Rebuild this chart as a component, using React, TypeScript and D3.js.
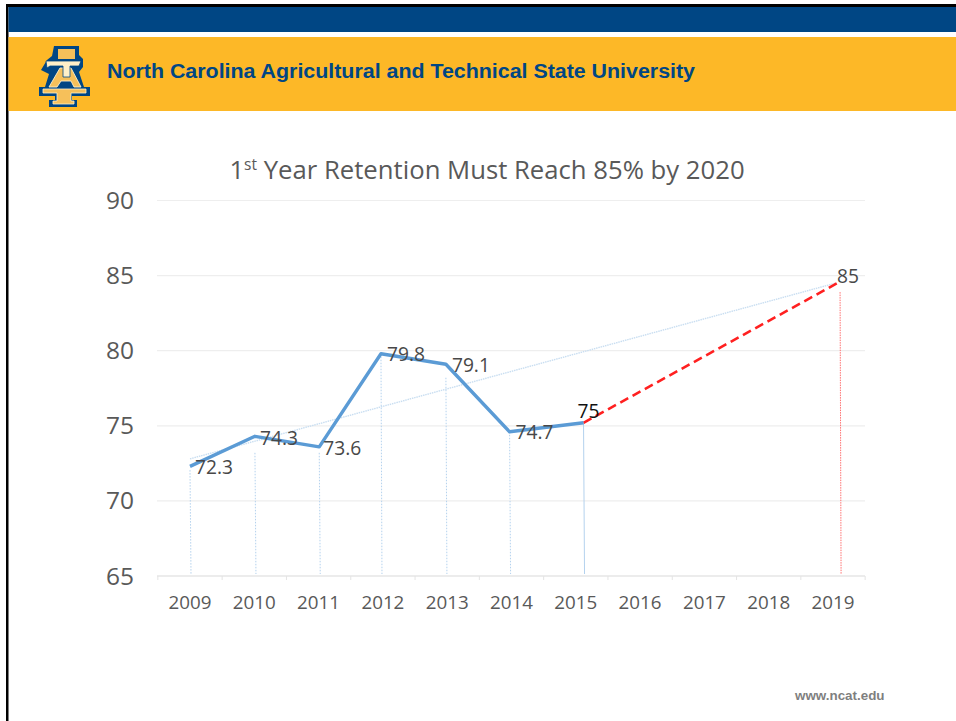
import React from "react";
import * as d3 from "d3";

const years = [2009, 2010, 2011, 2012, 2013, 2014, 2015, 2016, 2017, 2018, 2019];
const yTicks = [65, 70, 75, 80, 85, 90];
const actualPositions = [2009, 2010.01, 2011.01, 2011.97, 2012.98, 2013.97, 2015.12];
const actualValues = [72.3, 74.3, 73.6, 79.8, 79.1, 74.6, 75.2];
const actualLabels = ["72.3", "74.3", "73.6", "79.8", "79.1", "74.7", "75"];
const dropTops = [72.05, 73.2, 73.2, 79.8, 78.2, 74.6, 75.2];
const targetPositions = [2015.12, 2019.11];
const targetValues = [75.2, 84.6];
const trendPositions = [2009, 2019.04];
const trendValues = [72.8, 84.5];
const targetLabel = "85";
const targetDropTop = 83.9;

const FONT = "'Open Sans', sans-serif";
const NAVY = "#004684";
const GOLD = "#FDB827";

const x = d3.scaleLinear().domain([2009, 2019]).range([190, 833]);
const y = d3.scaleLinear().domain([65, 90]).range([576, 200.5]);
const line = d3.line<[number, number]>().x((d) => x(d[0])).y((d) => y(d[1]));
const pairs = (a: number[], b: number[]) => a.map((v, i) => [v, b[i]] as [number, number]);

const labelOffsets = [[5, 8], [5, 9], [4, 8.5], [6, 7], [6, 8], [6, 7.5], [-6, -5]];

function Logo() {
  return (
    <g>
      <path d="M54 46H79V55L83 59V67L79 72L84 87H90V96H72V100H77V107H49V100H55V96H39V87H45L49 74L41 70L47 60L52 56Z" fill={NAVY} />
      <path d="M58 49H75V59H58Z" fill="#f6c05a" />
      <path d="M60 68H71L81 87H74L71 81H61L57 87H49Z" fill="#f6c05a" stroke="#fff0c8" strokeWidth={0.9} />
      <path d="M46 61H81L79 66H70V77H63V66H50L47 68Z" fill="#fff0c8" stroke={NAVY} strokeWidth={0.8} />
      <path d="M43 89H86V93H71V101H74V104H53V101H57V93H43Z" fill="#f6c05a" stroke="#fff0c8" strokeWidth={0.8} />
    </g>
  );
}

export default function App() {
  const axisTicks = d3.range(years.length + 1).map((i) => x(2009 + i - 0.5));
  return (
    <svg width={956} height={721} style={{ position: "absolute", left: 0, top: 0, background: "#fff" }}>
      <rect x={6} y={4} width={950} height={3} fill="#000" />
      <rect x={6} y={4} width={2.5} height={717} fill="#000" />
      <rect x={8.5} y={7} width={947.5} height={25} fill={NAVY} />
      <rect x={8.5} y={37} width={947.5} height={74} fill={GOLD} />
      <Logo />
      <text x={107} y={78} fontFamily="'Liberation Sans', Arial, sans-serif" fontWeight={700} fontSize={20} fill={NAVY} textLength={588} lengthAdjust="spacingAndGlyphs">
        North Carolina Agricultural and Technical State University
      </text>

      <text x={487} y={179} textAnchor="middle" fontFamily={FONT} fontSize={25.7} fill="#595959">
        1<tspan dy={-9} fontSize={15.5}>st</tspan>
        <tspan dy={9}> Year Retention Must Reach 85% by 2020</tspan>
      </text>

      {yTicks.map((t) => (
        <g key={t}>
          {t > 65 && <line x1={157} x2={865} y1={y(t)} y2={y(t)} stroke="#eeeeee" strokeWidth={1.2} />}
          <text x={134} y={y(t) + 8.5} textAnchor="end" fontFamily={FONT} fontSize={24.5} fill="#595959">{t}</text>
        </g>
      ))}
      <line x1={157} x2={865} y1={y(65)} y2={y(65)} stroke="#d9d9d9" />
      {axisTicks.map((tx, i) => (
        <line key={i} x1={tx} x2={tx} y1={y(65)} y2={y(65) + 4} stroke="#e4e4e4" />
      ))}
      {years.map((yr) => (
        <text key={yr} x={x(yr)} y={609} textAnchor="middle" fontFamily={FONT} fontSize={18.8} fill="#595959">{yr}</text>
      ))}

      {actualPositions.map((p, i) => (
        <line key={i} x1={x(p)} x2={x(p) + 1} y1={y(dropTops[i])} y2={y(65) - 2} stroke="#b4d2ee" strokeWidth={1} strokeDasharray={i === 6 ? undefined : "1.5 1.5"} />
      ))}
      <line x1={x(targetPositions[1])} x2={x(targetPositions[1]) + 1} y1={y(targetDropTop)} y2={y(65) - 2} stroke="#ff7070" strokeWidth={1} strokeDasharray="1.5 1" />

      <path d={line(pairs(trendPositions, trendValues)) ?? ""} fill="none" stroke="#c9def1" strokeWidth={1.4} strokeDasharray="1.5 0.8" />
      <path d={line(pairs(targetPositions, targetValues)) ?? ""} fill="none" stroke="#ff2020" strokeWidth={2.6} strokeDasharray="9 5" />
      <path d={line(pairs(actualPositions, actualValues)) ?? ""} fill="none" stroke="#5b9bd5" strokeWidth={3.4} strokeLinejoin="round" />

      {actualLabels.map((l, i) => (
        <text key={i} x={x(actualPositions[i]) + labelOffsets[i][0]} y={y(actualValues[i]) + labelOffsets[i][1]} fontFamily={FONT} fontSize={19.2} fill={i === 6 ? "#111" : "#484848"}>{l}</text>
      ))}
      <text x={837} y={283} fontFamily={FONT} fontSize={19.2} fill="#484848">{targetLabel}</text>

      <text x={795} y={700} fontFamily="'Liberation Sans', Arial, sans-serif" fontWeight={700} fontSize={13.4} fill="#7f7f7f">www.ncat.edu</text>
    </svg>
  );
}
